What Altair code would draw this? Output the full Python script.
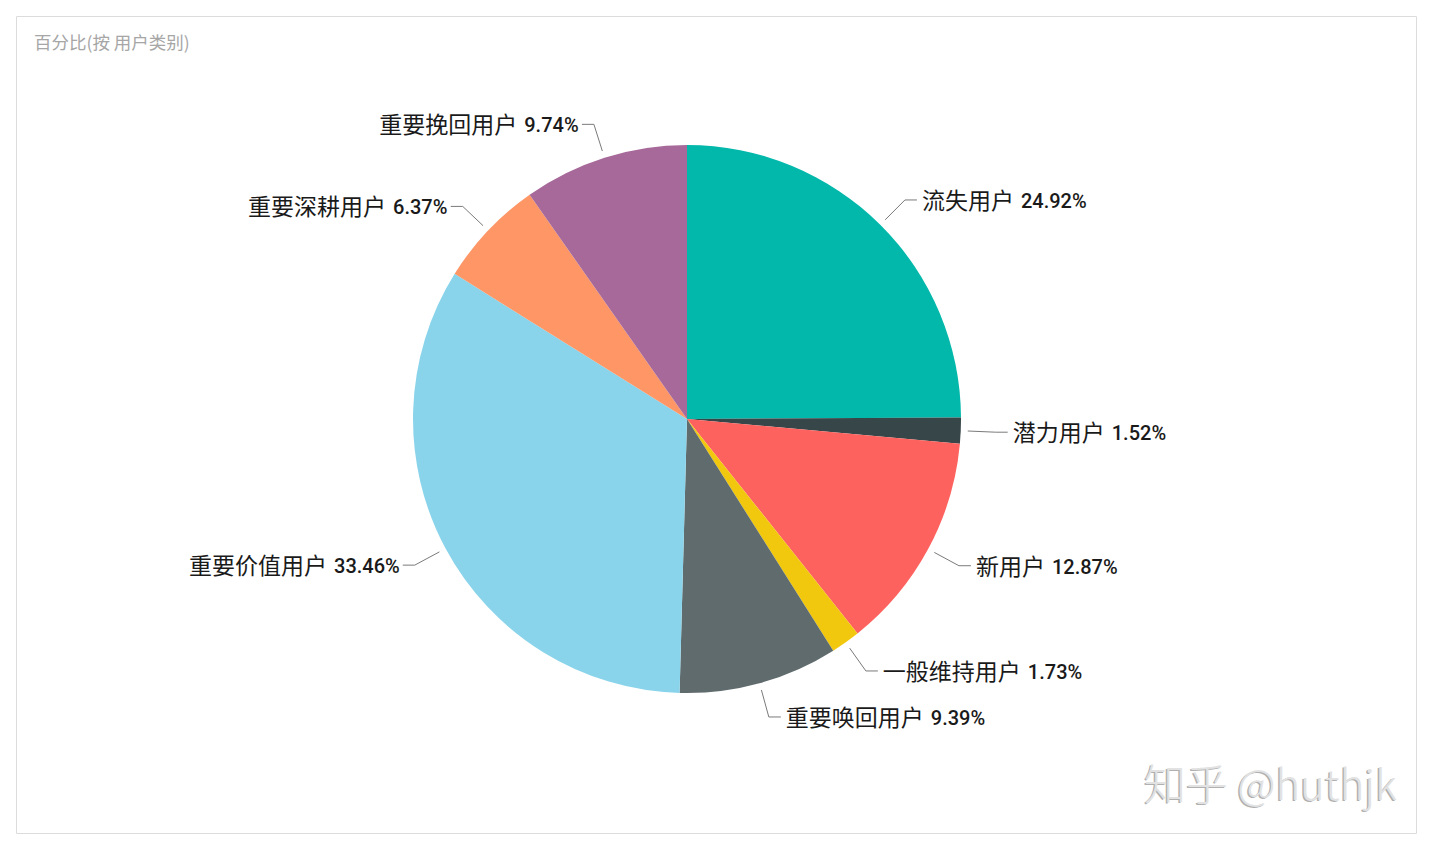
import altair as alt
import pandas as pd

# ---- data ----
categories = ["流失用户", "潜力用户", "新用户", "一般维持用户",
              "重要唤回用户", "重要价值用户", "重要深耕用户", "重要挽回用户"]
values = [24.92, 1.52, 12.87, 1.73, 9.39, 33.46, 6.37, 9.74]
colors = ["#01B8AA", "#374649", "#FD625E", "#F2C80F",
          "#5F6B6D", "#8AD4EB", "#FE9666", "#A66999"]
title_text = "百分比(按 用户类别)"
watermark = "知乎 @huthjk"

df = pd.DataFrame({
    "name": categories,
    "value": values,
    "idx": list(range(len(categories))),
    "pct": [f"{v:.2f}%" for v in values],
})

# ---- layout constants ----
CX, CY = 671, 403        # pie centre inside the view
R = 274                  # pie radius
R1, R2 = 281, 309        # leader start / elbow radius
FS_NAME, FS_PCT = 23, 20

color_scale = alt.Scale(domain=categories, range=colors)

pie = alt.Chart(df).mark_arc(outerRadius=R).encode(
    theta=alt.Theta("value:Q", stack=True),
    order=alt.Order("idx:Q"),
    color=alt.Color("name:N", scale=color_scale, legend=None),
    x=alt.value(CX),
    y=alt.value(CY),
)

base = (
    alt.Chart(df)
    .transform_joinaggregate(total="sum(value)")
    .transform_window(cum="sum(value)", sort=[alt.SortField("idx")], frame=[None, 0])
    .transform_calculate(mid="(datum.cum - datum.value/2) / datum.total * 2 * PI")
    .transform_calculate(
        side="sin(datum.mid) >= 0 ? 1 : -1",
        lx1=f"{CX} + {R1}*sin(datum.mid)",
        ly1=f"{CY} - {R1}*cos(datum.mid)",
        lx2=f"{CX} + {R2}*sin(datum.mid)",
        ly2=f"{CY} - {R2}*cos(datum.mid)",
    )
    .transform_calculate(
        lx3="datum.lx2 + datum.side*12",
        tx="datum.lx2 + datum.side*17",
        ty="datum.ly2 + 2",
        pctw="(length(datum.pct)-2)*11.0 + 5.2 + 14.5",
    )
    .transform_calculate(
        namex=f"datum.side > 0 ? datum.tx + length(datum.name)*{FS_NAME} : datum.tx - datum.pctw - 7",
        pctx=f"datum.side > 0 ? datum.tx + length(datum.name)*{FS_NAME} + 7 : datum.tx - datum.pctw",
    )
)

def px(field):
    return alt.X(f"{field}:Q", scale=None, axis=None)

def py(field):
    return alt.Y(f"{field}:Q", scale=None, axis=None)

leader1 = base.mark_rule(color="#7a7a7a", strokeWidth=1).encode(
    x=px("lx1"), y=py("ly1"), x2="lx2:Q", y2="ly2:Q")
leader2 = base.mark_rule(color="#7a7a7a", strokeWidth=1).encode(
    x=px("lx2"), y=py("ly2"), x2="lx3:Q", y2="ly2:Q")

name_text = base.mark_text(
    align="right", baseline="middle", font="Noto Sans CJK SC",
    fontSize=FS_NAME, color="#1a1a1a",
).encode(x=px("namex"), y=py("ty"), text="name:N")

pct_text = base.mark_text(
    align="left", baseline="middle", font="Roboto", fontWeight=500,
    fontSize=FS_PCT, color="#1a1a1a",
).encode(x=px("pctx"), y=py("ty"), text="pct:N")

title_df = pd.DataFrame({"t": [title_text]})
title = alt.Chart(title_df).mark_text(
    align="left", baseline="middle", font="Noto Sans CJK SC",
    fontSize=17.5, color="#a6a6a6",
).encode(x=alt.value(18), y=alt.value(28), text="t:N")

wm_df = pd.DataFrame({"t": [watermark]})
wm_shadow = alt.Chart(wm_df).mark_text(
    align="right", baseline="middle", font="Noto Sans CJK SC", fontWeight=300,
    fontSize=42, color="#b0b0b0", dx=-1.5, dy=1,
).encode(x=alt.value(1381), y=alt.value(771), text="t:N")
wm_main = alt.Chart(wm_df).mark_text(
    align="right", baseline="middle", font="Noto Sans CJK SC", fontWeight=300,
    fontSize=42, color="#e2e2e2",
).encode(x=alt.value(1381), y=alt.value(771), text="t:N")

chart = alt.layer(
    pie, leader1, leader2, name_text, pct_text, title, wm_shadow, wm_main
).properties(
    width=1400, height=817,
    padding={"left": 8, "top": 8, "right": 8, "bottom": 8},
    background="white",
).configure_view(stroke="#dcdcdc", strokeWidth=1)

chart.save("out.html", embed_options={"renderer": "svg", "actions": False})
